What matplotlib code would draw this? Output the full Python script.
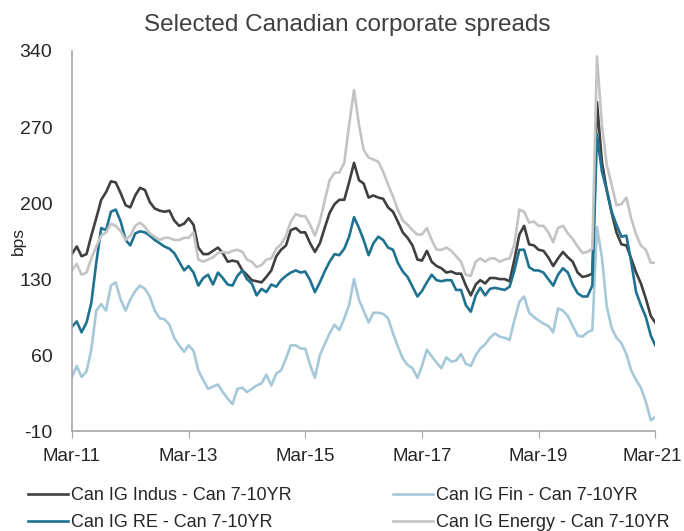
import matplotlib
matplotlib.use("Agg")
import matplotlib.pyplot as plt
import matplotlib.dates as mdates
import matplotlib.transforms as mtransforms
from matplotlib import font_manager
import pandas as pd

plt.rcParams['font.family'] = ['Liberation Sans', 'DejaVu Sans']
plt.rcParams['axes.unicode_minus'] = False
_names = {f.name for f in font_manager.fontManager.ttflist}
narrow_ok = 'Liberation Sans Narrow' in _names
legend_family = ['Liberation Sans Narrow', 'DejaVu Sans'] if narrow_ok else ['Liberation Sans', 'DejaVu Sans']
legend_size = 15.5 if narrow_ok else 13

dates = pd.date_range('2011-03-01', '2021-03-01', freq='MS')

indus = [153,160,151,153,170,186,203,210,220,219,
         209,198,196,207,214,212,201,195,193,192,
         193,184,179,181,186,180,159,153,153,156,
         159,154,146,147,146,138,134,129,128,127,
         132,138,151,157,161,175,177,173,173,163,
         155,163,177,191,199,203,203,219,237,221,
         218,205,207,205,204,196,192,183,173,168,
         161,148,147,156,146,142,140,136,137,135,
         135,124,115,125,129,126,131,131,130,130,
         128,148,171,179,162,161,157,156,150,142,
         149,155,150,146,136,132,133,135,293,238,
         212,191,173,162,161,149,136,126,112,96,90]

re_ = [86,91,81,90,108,145,177,175,192,194,
       183,166,161,172,174,173,170,166,163,160,
       158,154,146,138,142,136,124,131,134,125,
       136,131,125,124,133,138,130,126,115,121,
       118,125,123,129,133,136,138,136,137,129,
       118,127,137,146,153,152,158,169,187,177,
       166,152,163,169,166,159,157,145,137,132,
       123,114,119,127,134,129,128,129,129,120,
       120,106,100,115,122,115,121,122,121,120,
       123,138,157,157,141,138,138,136,130,124,
       134,140,136,125,117,114,114,124,263,229,
       212,192,180,169,170,146,118,106,95,78,69]

energy = [138,144,134,136,149,160,170,173,181,179,
          174,166,170,179,182,178,172,169,166,168,
          168,166,166,168,168,173,148,146,148,150,
          154,155,154,156,157,155,148,146,141,143,
          148,149,158,162,170,183,190,188,188,180,
          170,183,202,221,228,228,237,272,304,272,
          249,242,240,238,229,217,206,194,184,180,
          175,171,171,177,166,157,157,159,156,151,
          146,134,133,146,149,146,149,149,146,148,
          149,162,194,192,182,183,179,179,173,164,
          177,179,172,167,160,154,155,158,335,272,
          235,217,198,199,205,186,171,161,157,145,145]

fin = [40,50,40,45,65,101,107,101,124,127,
       111,101,111,119,124,121,114,101,94,93,
       88,76,69,63,69,64,46,37,29,31,
       33,26,20,15,29,30,26,29,32,34,
       42,32,43,46,57,69,69,66,66,51,
       39,60,70,80,88,83,94,106,130,111,
       101,90,99,99,98,94,80,68,57,51,
       48,39,50,65,59,53,48,58,54,55,
       61,52,50,60,66,70,76,80,77,76,
       74,92,109,114,99,95,92,89,87,81,
       103,101,96,87,78,77,81,83,178,150,
       105,85,76,71,61,46,37,30,17,0,3]

labels = ['Can IG Indus - Can 7-10YR', 'Can IG RE - Can 7-10YR',
          'Can IG Fin - Can 7-10YR', 'Can IG Energy - Can 7-10YR']
colors = ['#404040', '#1F7391', '#A6C9DA', '#C4C4C4']
yticks = [-10, 60, 130, 200, 270, 340]
xtick_dates = pd.to_datetime(['2011-03-01', '2013-03-01', '2015-03-01',
                              '2017-03-01', '2019-03-01', '2021-03-01'])

fig = plt.figure(figsize=(6.84, 5.31), dpi=100)
ax = fig.add_axes([0.105, 0.188, 0.853, 0.716])

lw = 1.9
l_indus, = ax.plot(dates, indus, color=colors[0], lw=lw, label=labels[0])
l_fin, = ax.plot(dates, fin, color=colors[2], lw=lw, label=labels[2])
l_re, = ax.plot(dates, re_, color=colors[1], lw=lw, label=labels[1])
l_en, = ax.plot(dates, energy, color=colors[3], lw=lw, label=labels[3])

ax.set_xlim(dates[0], dates[-1])
ax.set_ylim(-10, 340)
ax.set_yticks(yticks)
ax.set_xticks(xtick_dates)
ax.xaxis.set_major_formatter(mdates.DateFormatter('%b-%y'))

for s in ['top', 'right']:
    ax.spines[s].set_visible(False)
for s in ['left', 'bottom']:
    ax.spines[s].set_color('#A6A6A6')
    ax.spines[s].set_linewidth(1.2)

ax.tick_params(axis='y', length=0, pad=14, labelsize=14, labelcolor='#262626')
ax.tick_params(axis='x', length=5, direction='out', color='#A6A6A6', pad=7,
               labelsize=13.5, labelcolor='#262626')
last = ax.get_xticklabels()[-1]
last.set_transform(last.get_transform() + mtransforms.ScaledTranslation(-3/100, 0, fig.dpi_scale_trans))

ax.set_ylabel('bps', fontsize=12.5, color='#262626')
ax.yaxis.set_label_coords(-0.078, 0.5)
fig.text(0.508, 0.953, 'Selected Canadian corporate spreads', fontsize=17.5,
         color='#404040', ha='center', va='center')

fig.legend(handles=[l_indus, l_re, l_fin, l_en], labels=labels,
           loc='lower left', bbox_to_anchor=(0.041, 0.0), ncol=2, frameon=False,
           prop={'family': legend_family, 'size': legend_size},
           handlelength=2.2, handletextpad=0.2, columnspacing=5.6,
           labelspacing=0.55, borderpad=0, borderaxespad=0, labelcolor='#262626')

fig.savefig('out.png', dpi=100)
